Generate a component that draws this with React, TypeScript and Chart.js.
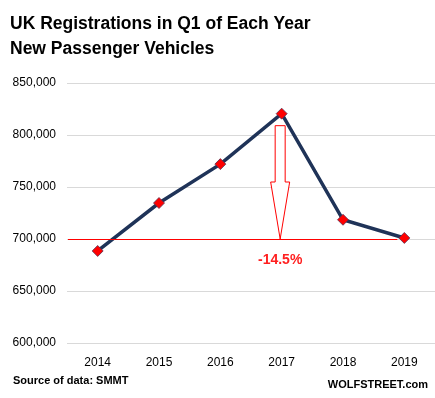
import React, { useEffect, useRef } from "react";
import { Chart, registerables } from "chart.js";

Chart.register(...registerables);

const years = ["2014", "2015", "2016", "2017", "2018", "2019"];
const registrations = [688500, 734600, 772000, 820500, 718500, 701000];
const referenceLevel = 700000;
const changeLabel = "-14.5%";
const titleLines = ["UK Registrations in Q1 of Each Year", "New Passenger Vehicles"];
const sourceText = "Source of data: SMMT";
const brandText = "WOLFSTREET.com";

const FONT = "'Liberation Sans', Arial, sans-serif";

const overlayPlugin = {
  id: "overlay",
  afterDatasetsDraw(chart: any) {
    const { ctx, chartArea, scales } = chart;
    const x = scales.x;
    const y = scales.y;
    const yRef = y.getPixelForValue(referenceLevel);
    const peakIdx = registrations.indexOf(Math.max(...registrations));
    const yPeak = y.getPixelForValue(registrations[peakIdx]);
    const xPeak = x.getPixelForValue(peakIdx) - 1.5;
    const xLast = x.getPixelForValue(years.length - 1);

    ctx.save();
    ctx.strokeStyle = "#ff0000";
    ctx.lineWidth = 1;
    ctx.beginPath();
    ctx.moveTo(chartArea.left + 1, Math.round(yRef) + 0.5);
    ctx.lineTo(xLast - 7, Math.round(yRef) + 0.5);
    ctx.stroke();

    const top = yPeak + 12;
    const tip = yRef;
    const headStart = tip - 57;
    const sw = 5;
    const hw = 9.5;
    ctx.beginPath();
    ctx.moveTo(xPeak - sw, top);
    ctx.lineTo(xPeak + sw, top);
    ctx.lineTo(xPeak + sw, headStart);
    ctx.lineTo(xPeak + hw, headStart);
    ctx.lineTo(xPeak, tip);
    ctx.lineTo(xPeak - hw, headStart);
    ctx.lineTo(xPeak - sw, headStart);
    ctx.closePath();
    ctx.fillStyle = "#ffffff";
    ctx.fill();
    ctx.strokeStyle = "#ff0000";
    ctx.stroke();

    ctx.fillStyle = "#ff2020";
    ctx.font = `bold 14px ${FONT}`;
    ctx.textAlign = "center";
    ctx.textBaseline = "middle";
    ctx.fillText(changeLabel, xPeak, yRef + 21);
    ctx.restore();
  },
  afterDraw(chart: any) {
    const { ctx } = chart;
    ctx.save();
    ctx.fillStyle = "#000000";
    ctx.textBaseline = "middle";
    ctx.textAlign = "left";
    ctx.font = `bold 17.5px ${FONT}`;
    ctx.fillText(titleLines[0], 10, 24);
    ctx.fillText(titleLines[1], 10, 49);
    ctx.font = `bold 11px ${FONT}`;
    ctx.fillText(sourceText, 13, 381);
    ctx.textAlign = "right";
    ctx.fillText(brandText, 428, 385);
    ctx.restore();
  },
};

export default function App() {
  const ref = useRef<HTMLCanvasElement | null>(null);
  useEffect(() => {
    document.body.style.margin = "0";
    const canvas = ref.current!;
    const chart = new Chart(canvas, {
      type: "line",
      data: {
        labels: years,
        datasets: [
          {
            data: registrations,
            borderColor: "#1f3358",
            borderWidth: 3.5,
            pointStyle: "rectRot",
            pointRadius: 5.5,
            pointBackgroundColor: "#ff0000",
            pointBorderColor: "#5a3050",
            pointBorderWidth: 0.8,
            tension: 0,
          },
        ],
      },
      options: {
        responsive: false,
        animation: false,
        layout: { autoPadding: false, padding: { top: 83, left: 0, right: 0, bottom: 25 } },
        plugins: { legend: { display: false }, tooltip: { enabled: false }, title: { display: false } },
        scales: {
          x: {
            offset: true,
            grid: { display: false },
            border: { display: false },
            ticks: { color: "#000000", font: { family: FONT, size: 12 }, padding: 4 },
            afterFit: (s: any) => { s.height = 30; s.paddingLeft = 0; s.paddingRight = 0; },
          },
          y: {
            min: 600000,
            max: 850000,
            grid: { color: "#d9d9d9", lineWidth: 1, drawTicks: false },
            border: { display: false },
            ticks: {
              stepSize: 50000,
              color: "#000000",
              padding: 11,
              font: { family: FONT, size: 12 },
              callback: (v: any) => Number(v).toLocaleString("en-US"),
            },
            afterFit: (s: any) => { s.width = 67; },
          },
        },
      },
      plugins: [overlayPlugin],
    });
    return () => chart.destroy();
  }, []);
  return <canvas ref={ref} width={435} height={398} style={{ display: "block" }} />;
}
